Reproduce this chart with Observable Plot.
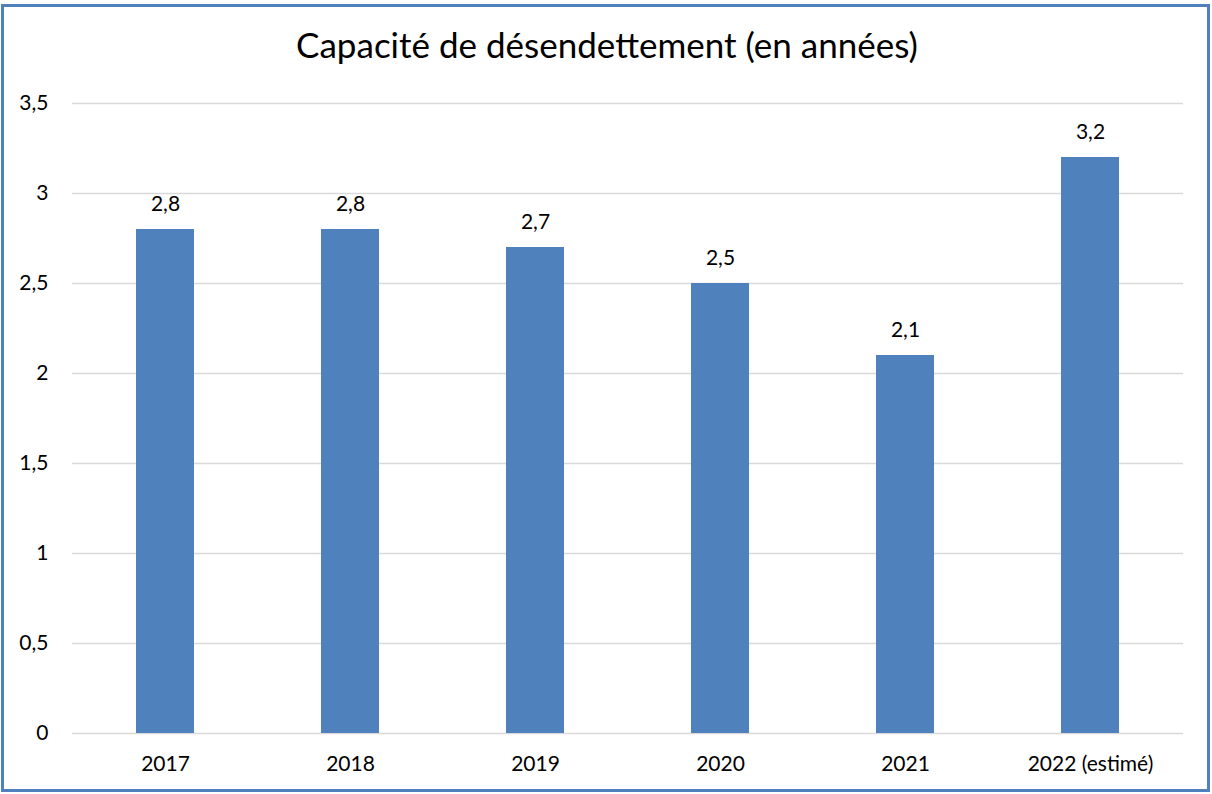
<!DOCTYPE html>
<html><head><meta charset="utf-8">
<script src="https://cdn.jsdelivr.net/npm/d3@7"></script>
<script src="https://cdn.jsdelivr.net/npm/@observablehq/plot@0.6"></script>
<style>
html,body{margin:0;padding:0;background:#fff;}
#wrap{position:relative;width:1212px;height:794px;overflow:hidden;font-family:Lato,"Open Sans",sans-serif;}
#frame{position:absolute;left:1px;top:4px;width:1203px;height:782px;border:3px solid #4f81bd;}
#title{position:absolute;left:0;width:1214px;top:23px;text-align:center;font-size:35px;line-height:42px;color:#000;}
#chart{position:absolute;left:0;top:0;}
</style></head>
<body><div id="wrap"><div id="frame"></div><div id="title">Capacité de désendettement (en années)</div><div id="chart"></div></div>
<script>
const categories = ["2017","2018","2019","2020","2021","2022 (estimé)"];
const values = [2.8, 2.8, 2.7, 2.5, 2.1, 3.2];
const yTicks = [0, 0.5, 1, 1.5, 2, 2.5, 3, 3.5];
const data = categories.map((c,i)=>({cat:c, v:values[i]}));
const fmt = d => String(d).replace(".", ",");
const chart = Plot.plot({
  width:1212, height:794,
  marginLeft:72, marginRight:29, marginTop:103, marginBottom:61,
  style:{fontFamily:"Lato, 'Open Sans', sans-serif", fontSize:"21px", color:"#000", background:"transparent"},
  x:{domain:categories, paddingInner:0.687, paddingOuter:0.3435, label:null, tickSize:0, tickPadding:23},
  y:{domain:[0,3.5], ticks:yTicks, tickFormat:fmt, label:null, tickSize:0, tickPadding:24},
  marks:[
    Plot.gridY(yTicks, {stroke:"#d9d9d9", strokeOpacity:1, strokeWidth:1.5}),
    Plot.barY(data, {x:"cat", y:"v", fill:"#4f81bd"}),
    Plot.text(data, {x:"cat", y:"v", text:d=>fmt(d.v), dy:-25, fontSize:21, fill:"#000"})
  ]
});
document.getElementById("chart").appendChild(chart);
</script></body></html>
